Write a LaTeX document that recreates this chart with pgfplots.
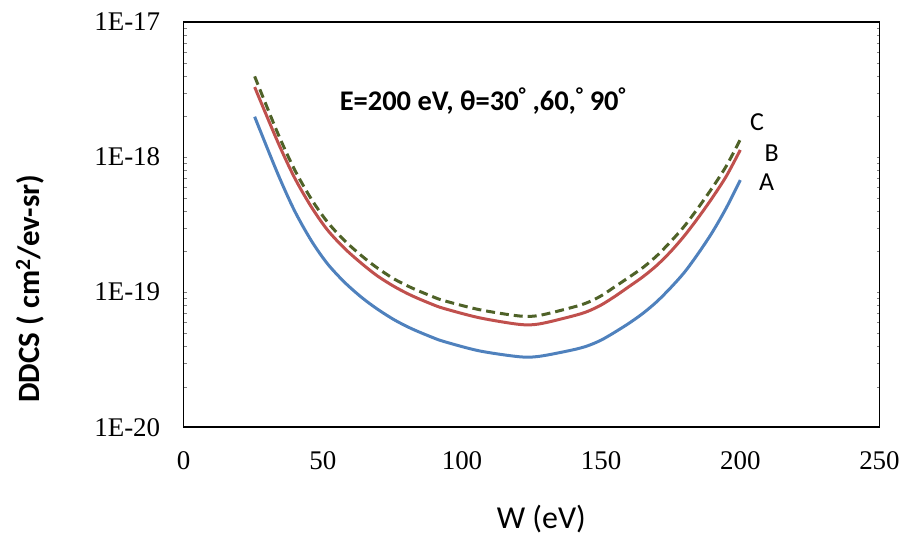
\documentclass[border=0pt]{standalone}
\usepackage{fontspec}
\setmainfont{Carlito}
\newfontfamily\tickfont{Liberation Serif}
\usepackage{pgfplots}
\pgfplotsset{compat=1.18}

\definecolor{serA}{HTML}{4F81BD}
\definecolor{serB}{HTML}{C0504D}
\definecolor{serC}{HTML}{4F6228}

\begin{document}
\begin{tikzpicture}
\begin{axis}[
  scale only axis,
  width=697pt, height=406pt,
  xmin=0, xmax=250,
  ymode=log, ymin=1e-20, ymax=1e-17,
  xtick={0,50,100,150,200,250},
  xticklabels={0,50,100,150,200,250},
  ytick={1e-20,1e-19,1e-18,1e-17},
  yticklabels={1E-20,1E-19,1E-18,1E-17},
  minor ytick={},
  major tick length=0pt,
  tick label style={font=\tickfont\fontsize{27}{27}\selectfont},
  xticklabel style={yshift=-21pt},
  yticklabel style={xshift=-20pt},
  axis line style={line width=1.6pt},
  clip=false,
]
% A
\addplot[serA, line width=3pt, smooth, tension=0.5] coordinates {
  (25.5,1.99e-18) (33.7,7.62e-19) (39.8,4.02e-19) (45.9,2.40e-19)
  (51.6,1.63e-19) (57.7,1.19e-19) (63.8,9.20e-20) (69.6,7.50e-20)
  (75.7,6.24e-20) (81.8,5.38e-20) (89.0,4.66e-20) (93.6,4.31e-20)
  (106.2,3.68e-20) (120.5,3.33e-20) (127.7,3.35e-20) (139.5,3.73e-20)
  (145,4.00e-20) (150,4.42e-20) (155,5.07e-20) (160,5.89e-20)
  (165,6.97e-20) (170,8.51e-20) (175,1.08e-19) (180,1.41e-19)
  (185,1.95e-19) (190,2.79e-19) (195,4.22e-19) (200,6.76e-19)
};
% B
\addplot[serB, line width=3pt, smooth, tension=0.5] coordinates {
  (25.5,3.30e-18) (33.7,1.31e-18) (39.8,7.06e-19) (45.9,4.27e-19)
  (51.6,2.90e-19) (57.7,2.12e-19) (63.8,1.64e-19) (69.6,1.32e-19)
  (75.7,1.10e-19) (81.8,9.46e-20) (89.0,8.18e-20) (93.6,7.57e-20)
  (106.2,6.47e-20) (120.5,5.78e-20) (127.7,5.82e-20) (139.5,6.64e-20)
  (145,7.19e-20) (150,8.04e-20) (155,9.33e-20) (160,1.10e-19)
  (165,1.30e-19) (170,1.58e-19) (175,2.00e-19) (180,2.63e-19)
  (185,3.59e-19) (190,5.02e-19) (195,7.24e-19) (200,1.13e-18)
};
% C
\addplot[serC, line width=3pt, smooth, tension=0.5, dash pattern=on 9pt off 5pt] coordinates {
  (25.5,3.96e-18) (33.7,1.52e-18) (39.8,8.11e-19) (45.9,4.88e-19)
  (51.6,3.32e-19) (57.7,2.42e-19) (63.8,1.87e-19) (69.6,1.51e-19)
  (75.7,1.25e-19) (81.8,1.08e-19) (89.0,9.35e-20) (93.6,8.65e-20)
  (106.2,7.43e-20) (120.5,6.67e-20) (127.7,6.73e-20) (139.5,7.71e-20)
  (145,8.37e-20) (150,9.40e-20) (155,1.10e-19) (160,1.29e-19)
  (165,1.52e-19) (170,1.86e-19) (175,2.37e-19) (180,3.10e-19)
  (185,4.25e-19) (190,5.96e-19) (195,8.61e-19) (200,1.35e-18)
};
\node[font=\bfseries\fontsize{28.5}{28.5}\selectfont] at (rel axis cs:0.430,0.805)
  {E=200 eV, θ=30\textsuperscript{°} ,60,\textsuperscript{°} 90\textsuperscript{°}};
\node[font=\fontsize{26}{26}\selectfont] at (rel axis cs:0.824,0.754) {C};
\node[font=\fontsize{26}{26}\selectfont] at (rel axis cs:0.845,0.677) {B};
\node[font=\fontsize{26}{26}\selectfont] at (rel axis cs:0.838,0.606) {A};
\node[font=\fontsize{32}{32}\selectfont] at (rel axis cs:0.514,-0.227) {W (eV)};
\node[font=\bfseries\fontsize{31}{31}\selectfont, rotate=90] at (rel axis cs:-0.221,0.342)
  {DDCS ( cm\textsuperscript{2}/ev-sr)};
\end{axis}
\path (current axis.south west) ++(-184pt,-114pt) rectangle ++(903pt,542pt);
\end{tikzpicture}
\end{document}
